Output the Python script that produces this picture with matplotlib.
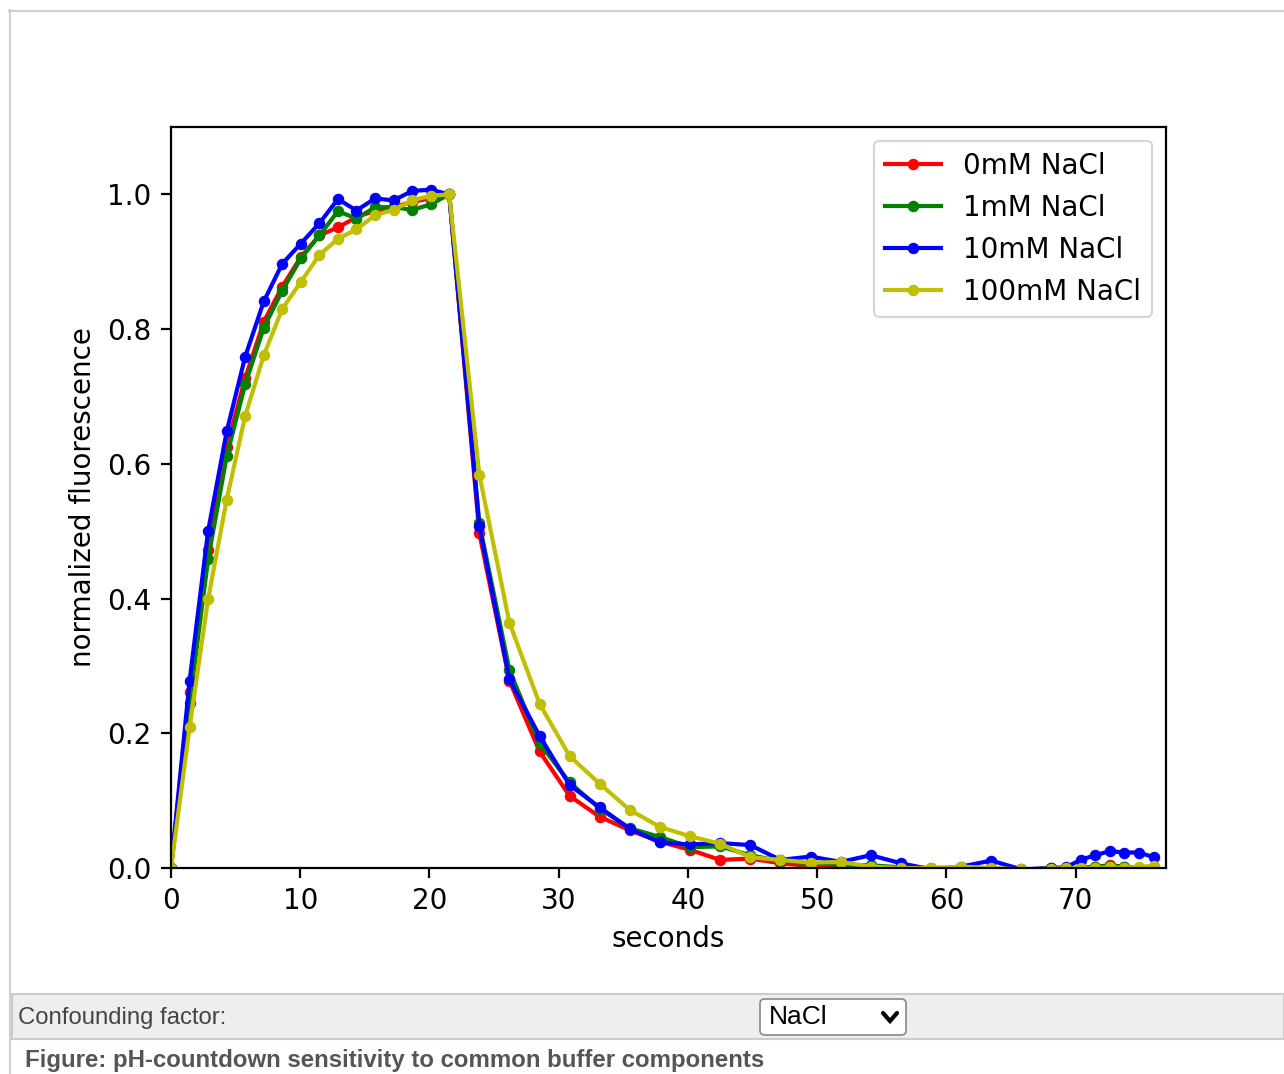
import matplotlib
matplotlib.use("Agg")
import matplotlib.pyplot as plt
from matplotlib.patches import Rectangle, FancyBboxPatch
from matplotlib.lines import Line2D

# temps (s)
seconds = [0, 1.44, 2.87, 4.31, 5.74, 7.18, 8.61, 10.05, 11.48, 12.92, 14.35, 15.79,
           17.22, 18.66, 20.09, 21.53,
           23.86, 26.19, 28.52, 30.85, 33.18, 35.51, 37.84, 40.17, 42.50, 44.83,
           47.16, 49.49, 51.82, 54.15, 56.48, 58.81, 61.14, 63.47, 65.80, 68.13,
           69.26, 70.39, 71.52, 72.65, 73.78, 74.91, 76.04]

nacl_0 = [0, 0.262, 0.472, 0.625, 0.727, 0.811, 0.863, 0.907, 0.939, 0.951, 0.966, 0.976,
          0.981, 0.989, 0.994, 1.0,
          0.497, 0.278, 0.173, 0.107, 0.076, 0.056, 0.039, 0.027, 0.012, 0.014,
          0.007, 0.003, 0.001, 0.0, -0.002, -0.003, -0.002, -0.003, -0.004, -0.003,
          -0.002, 0.0, 0.002, 0.004, 0.002, 0.0, -0.001]

nacl_1 = [0, 0.245, 0.458, 0.611, 0.718, 0.802, 0.857, 0.905, 0.939, 0.975, 0.964, 0.981,
          0.981, 0.977, 0.985, 1.0,
          0.512, 0.294, 0.185, 0.127, 0.088, 0.059, 0.046, 0.031, 0.032, 0.019,
          0.010, 0.007, 0.005, 0.004, 0.001, 0.0, 0.0, -0.002, -0.003, 0.0,
          -0.001, 0.0, 0.002, 0.003, 0.002, 0.0, 0.0]

nacl_10 = [0, 0.278, 0.500, 0.648, 0.759, 0.841, 0.897, 0.927, 0.957, 0.993, 0.976, 0.994,
           0.991, 1.005, 1.007, 1.0,
           0.507, 0.280, 0.196, 0.123, 0.090, 0.058, 0.038, 0.035, 0.037, 0.034,
           0.012, 0.017, 0.009, 0.019, 0.007, -0.002, 0.002, 0.011, -0.002, 0.0,
           0.001, 0.012, 0.019, 0.025, 0.023, 0.023, 0.016]

nacl_100 = [0, 0.209, 0.399, 0.547, 0.671, 0.761, 0.830, 0.870, 0.910, 0.934, 0.948, 0.969,
            0.977, 0.991, 0.998, 1.0,
            0.584, 0.364, 0.244, 0.166, 0.125, 0.086, 0.061, 0.047, 0.036, 0.016,
            0.012, 0.008, 0.009, 0.002, 0.0, 0.0, 0.002, 0.0, -0.002, -0.001,
            0.0, 0.0, 0.0, 0.001, 0.0, 0.002, 0.003]

labels = ["0mM NaCl", "1mM NaCl", "10mM NaCl", "100mM NaCl"]
series = [nacl_0, nacl_1, nacl_10, nacl_100]
colors = ["r", "g", "b", "y"]

W, H = 1284, 1074
fig = plt.figure(figsize=(W / 100, H / 100), dpi=100)


def fx(x):
    return x / W


def fy(y):
    return 1 - y / H


# cadre de la page
fig.add_artist(Line2D([fx(9), fx(W)], [fy(10.5), fy(10.5)], color="#d0d0d0", lw=1.5))
fig.add_artist(Line2D([fx(9.5), fx(9.5)], [fy(10), fy(H)], color="#d0d0d0", lw=1.5))

ax = fig.add_axes([fx(171), fy(868), (1166 - 171) / W, (868 - 127) / H])
for y, lab, c in zip(series, labels, colors):
    ax.plot(seconds, y, c + ".-", label=lab, lw=3, ms=12.5, mew=2)

ax.set_xlim(0, 77)
ax.set_ylim(0, 1.1)
ax.set_xticks([0, 10, 20, 30, 40, 50, 60, 70])
ax.set_yticks([0.0, 0.2, 0.4, 0.6, 0.8, 1.0])
ax.tick_params(labelsize=20, length=7, width=1.6, pad=7)
for s in ax.spines.values():
    s.set_linewidth(1.6)
ax.set_xlabel("seconds", fontsize=20, labelpad=7)
ax.set_ylabel("normalized fluorescence", fontsize=20, labelpad=7)
leg = ax.legend(loc="upper right", fontsize=20)
leg.get_frame().set_linewidth(1.6)

# panneau du bas
fig.add_artist(Rectangle((fx(12), fy(1039)), fx(W - 12), (1039 - 994) / H,
                         facecolor="#eeeeee", edgecolor="#cccccc", lw=1.5))
fig.add_artist(FancyBboxPatch((fx(760), fy(1035)), fx(146), (1035 - 999) / H,
                              boxstyle="round,pad=0,rounding_size=0.004",
                              facecolor="white", edgecolor="#888888", lw=1.2))
fig.text(fx(18), fy(1018), "Confounding factor:", fontsize=17.2, color="#444444",
         family="Liberation Sans", va="center", ha="left")
fig.text(fx(769), fy(1017), "NaCl", fontsize=19, color="black",
         family="Liberation Sans", va="center", ha="left")
fig.add_artist(Line2D([fx(883), fx(890), fx(897)], [fy(1013), fy(1021), fy(1013)],
                      color="black", lw=3, solid_capstyle="round", solid_joinstyle="miter"))
fig.text(fx(25), fy(1060), "Figure: pH-countdown sensitivity to common buffer components",
         fontsize=17.3, color="#555555", weight="bold",
         family="Liberation Sans", va="center", ha="left")

plt.savefig("out.png", dpi=100)
